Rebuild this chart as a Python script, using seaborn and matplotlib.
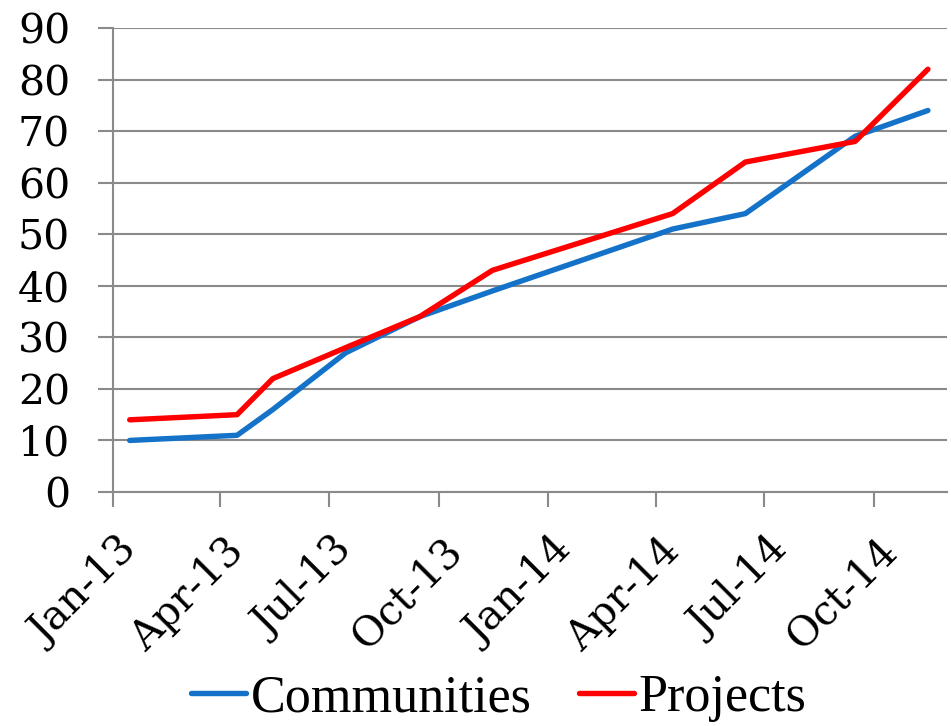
import matplotlib
matplotlib.use('Agg')
import matplotlib.pyplot as plt
import matplotlib.dates as mdates
import matplotlib.transforms as mtransforms
import numpy as np
import pandas as pd
import seaborn as sns

# values
dates = ['2013-01-15', '2013-04-15', '2013-05-15', '2013-07-15', '2013-09-15',
         '2013-11-15', '2014-04-15', '2014-06-15', '2014-09-15', '2014-11-15']
communities = [10, 11, 16, 27, 34, 39, 51, 54, 69, 74]
projects = [14, 15, 22, 28, 34, 43, 54, 64, 68, 82]
series_names = ['Communities', 'Projects']
y_ticks = list(range(0, 100, 10))

df = pd.DataFrame({
    'date': pd.to_datetime(dates * 2),
    'value': communities + projects,
    'series': [series_names[0]] * len(dates) + [series_names[1]] * len(dates),
})

sns.set_theme(style='white')
plt.rcParams['font.family'] = ['DejaVu Serif']
plt.rcParams['text.color'] = 'black'
plt.rcParams['xtick.labelcolor'] = 'black'
plt.rcParams['ytick.labelcolor'] = 'black'

grid_col = '#8a8a8a'
fig = plt.figure(figsize=(9.51, 7.26), dpi=100)
ax = fig.add_axes([113 / 951, 1 - 492 / 726, (947 - 113) / 951, (492 - 28) / 726])

sns.lineplot(data=df, x='date', y='value', hue='series', hue_order=series_names,
             palette={'Communities': '#1572c9', 'Projects': '#ff0000'},
             linewidth=3.9, ax=ax, legend=True)
for ln in ax.get_lines():
    ln.set_solid_capstyle('round')
    ln.set_solid_joinstyle('round')

ax.set_ylim(0, 90)
ax.set_yticks(y_ticks)
ax.set_xlim(pd.Timestamp('2013-01-01'), pd.Timestamp('2014-12-01'))
ax.xaxis.set_major_locator(mdates.MonthLocator(bymonth=[1, 4, 7, 10]))
ax.xaxis.set_major_formatter(mdates.DateFormatter('%b-%y'))
ax.set_xlabel('')
ax.set_ylabel('')

ax.yaxis.grid(True, color=grid_col, linewidth=1.5)
ax.xaxis.grid(False)
ax.set_axisbelow(True)
for side in ['top', 'right']:
    ax.spines[side].set_visible(False)
for side in ['left', 'bottom']:
    ax.spines[side].set_color(grid_col)
    ax.spines[side].set_linewidth(1.5)

ax.tick_params(axis='y', which='major', direction='out', length=10.8, width=1.5,
               color=grid_col, labelcolor='black', labelsize=29.5, pad=20, left=True)
ax.tick_params(axis='x', which='major', direction='out', length=10.8, width=1.5,
               color=grid_col, labelcolor='black', labelsize=29.5, pad=17, bottom=True)

offset = mtransforms.ScaledTranslation(0.32, 0, fig.dpi_scale_trans)
for lab in ax.get_xticklabels():
    lab.set_rotation(45)
    lab.set_ha('right')
    lab.set_va('top')
    lab.set_transform(lab.get_transform() + offset)

handles, labels = ax.get_legend_handles_labels()
ax.get_legend().remove()
for h in handles:
    h.set_solid_capstyle('round')
fig.legend(handles, labels, loc='center', bbox_to_anchor=(499 / 951, 1 - 698 / 726),
           ncol=2, frameon=False, labelcolor='black',
           prop={'family': 'Liberation Serif', 'size': 37.5},
           handlelength=1.05, handletextpad=0.1, columnspacing=0.9, borderpad=0)

fig.savefig('out.png', dpi=100, facecolor='white')
plt.close(fig)
